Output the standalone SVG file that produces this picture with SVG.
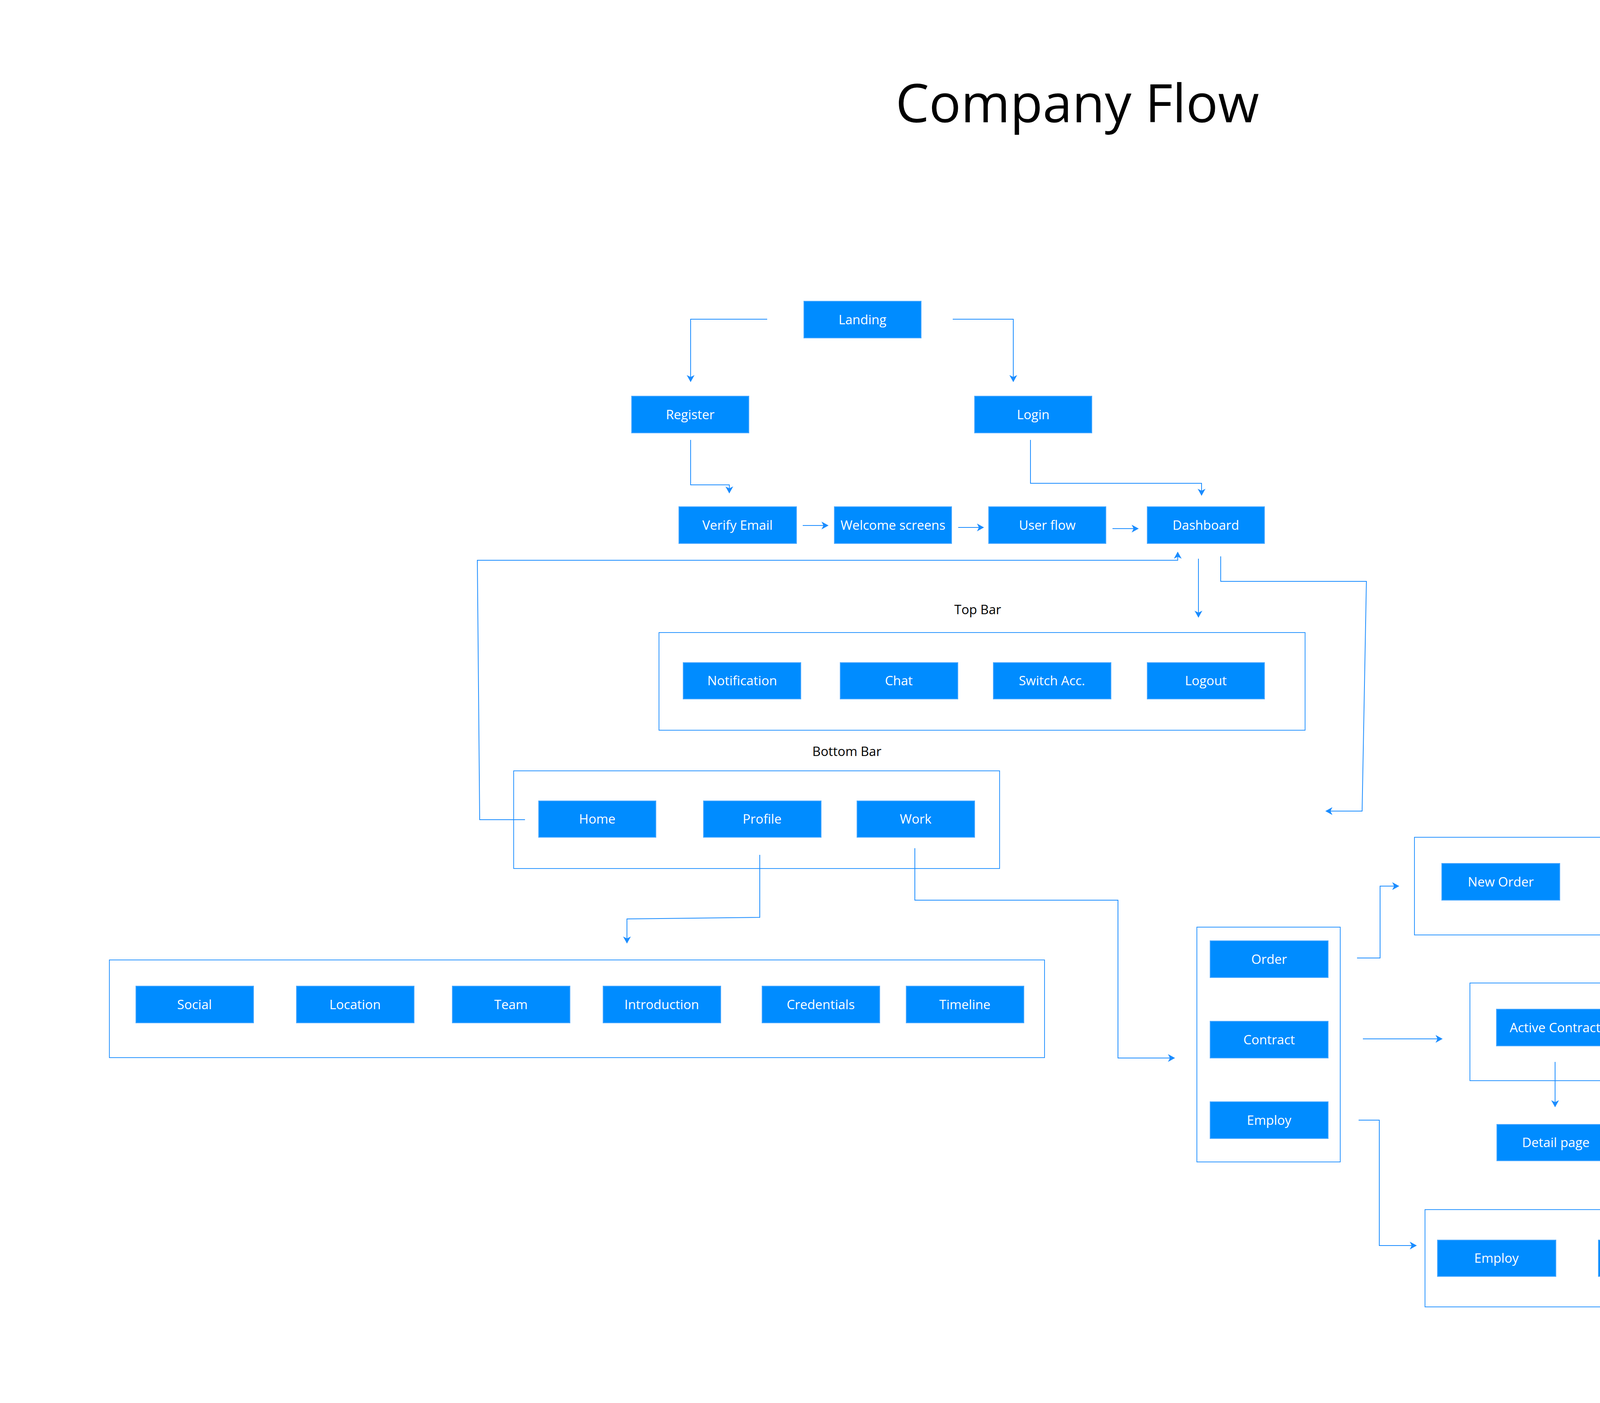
<svg xmlns="http://www.w3.org/2000/svg" width="5514" height="3591" viewBox="0 0 5514 3591">
<style>
.bg{fill:#ffffff}
.node rect{fill:#008cff;stroke:#4aa8ff;stroke-width:2}
.node text{fill:#ffffff;font-family:"Open Sans","Noto Sans",sans-serif;font-size:33px;text-anchor:middle}
.group rect{fill:none;stroke:#2a95ff;stroke-width:2}
.label{fill:#000000;font-family:"Open Sans","Noto Sans",sans-serif;font-size:33px;text-anchor:middle}
.title{fill:#000000;font-family:"Open Sans","Noto Sans",sans-serif;font-size:136px;text-anchor:middle}
#connectors path{fill:none;stroke:#1a8cff;stroke-width:2;marker-end:url(#arr)}
</style>
<defs>
<marker id="arr" viewBox="0 0 18 20" refX="17" refY="10" markerWidth="18" markerHeight="20" markerUnits="userSpaceOnUse" orient="auto">
<path d="M0,0 L18,10 L0,20 L5,10 Z" fill="#1a8cff"/>
</marker>
</defs>
<rect class="bg" x="0" y="0" width="5514" height="3591"/>
<text class="title" x="2758" y="313">Company Flow</text>

<g id="containers">
<g id="topbar-group" class="group"><rect x="1687" y="1619" width="1654" height="250"/></g>
<g id="bottombar-group" class="group"><rect x="1315" y="1973" width="1244" height="250"/></g>
<g id="profile-group" class="group"><rect x="280" y="2457" width="2394" height="250"/></g>
<g id="work-group" class="group"><rect x="3064" y="2373" width="367" height="601"/></g>
<g id="order-group" class="group"><rect x="3621" y="2143" width="1627" height="250"/></g>
<g id="contract-group" class="group"><rect x="3763" y="2516" width="848" height="250"/></g>
<g id="employ-group" class="group"><rect x="3648" y="3096" width="787" height="249"/></g>
</g>

<text id="topbar-label" class="label" x="2503" y="1572">Top Bar</text>
<text id="bottombar-label" class="label" x="2168" y="1935">Bottom Bar</text>

<g id="connectors">
<path d="M1964,817 H1768 V977"/>
<path d="M2439,817 H2594 V977"/>
<path d="M1768,1126 V1241 H1867 V1262"/>
<path d="M2638,1126 V1237 H3076 V1268"/>
<path d="M2055,1345 H2120"/>
<path d="M2453,1350 H2518"/>
<path d="M2848,1353 H2914"/>
<path d="M1344,2098 H1228 L1222,1434 H3015 V1413"/>
<path d="M3068,1430 V1580"/>
<path d="M3125,1424 V1488 H3498 L3487,2076 H3394"/>
<path d="M1945,2188 V2348 L1605,2352 V2414"/>
<path d="M2342,2171 V2304 H2862 V2708 H3007"/>
<path d="M3474,2452 H3533 V2268 H3581"/>
<path d="M3489,2659 H3692"/>
<path d="M3981,2718 V2833"/>
<path d="M3478,2867 H3531 V3188 H3626"/>
</g>

<g id="landing" class="node"><rect x="2058" y="771" width="300" height="94"/><text x="2208" y="830">Landing</text></g>
<g id="register" class="node"><rect x="1617" y="1014" width="300" height="94"/><text x="1767" y="1073">Register</text></g>
<g id="login" class="node"><rect x="2495" y="1014" width="300" height="94"/><text x="2645" y="1073">Login</text></g>
<g id="verify-email" class="node"><rect x="1738" y="1297" width="301" height="94"/><text x="1888" y="1356">Verify Email</text></g>
<g id="welcome-screens" class="node"><rect x="2136" y="1297" width="300" height="94"/><text x="2286" y="1356">Welcome screens</text></g>
<g id="user-flow" class="node"><rect x="2531" y="1297" width="300" height="94"/><text x="2681" y="1356">User flow</text></g>
<g id="dashboard" class="node"><rect x="2937" y="1297" width="300" height="94"/><text x="3087" y="1356">Dashboard</text></g>

<g id="notification" class="node"><rect x="1749" y="1696" width="301" height="93"/><text x="1900" y="1754">Notification</text></g>
<g id="chat" class="node"><rect x="2151" y="1696" width="301" height="93"/><text x="2301" y="1754">Chat</text></g>
<g id="switch-acc" class="node"><rect x="2543" y="1696" width="301" height="93"/><text x="2693" y="1754">Switch Acc.</text></g>
<g id="logout" class="node"><rect x="2937" y="1696" width="300" height="93"/><text x="3087" y="1754">Logout</text></g>

<g id="home" class="node"><rect x="1379" y="2050" width="300" height="93"/><text x="1529" y="2108">Home</text></g>
<g id="profile" class="node"><rect x="1801" y="2050" width="301" height="93"/><text x="1951" y="2108">Profile</text></g>
<g id="work" class="node"><rect x="2194" y="2050" width="301" height="93"/><text x="2344" y="2108">Work</text></g>

<g id="social" class="node"><rect x="348" y="2524" width="301" height="94"/><text x="498" y="2583">Social</text></g>
<g id="location" class="node"><rect x="759" y="2524" width="301" height="94"/><text x="909" y="2583">Location</text></g>
<g id="team" class="node"><rect x="1158" y="2524" width="301" height="94"/><text x="1308" y="2583">Team</text></g>
<g id="introduction" class="node"><rect x="1544" y="2524" width="301" height="94"/><text x="1694" y="2583">Introduction</text></g>
<g id="credentials" class="node"><rect x="1951" y="2524" width="301" height="94"/><text x="2101" y="2583">Credentials</text></g>
<g id="timeline" class="node"><rect x="2320" y="2524" width="301" height="94"/><text x="2470" y="2583">Timeline</text></g>

<g id="order" class="node"><rect x="3098" y="2408" width="302" height="94"/><text x="3249" y="2467">Order</text></g>
<g id="contract" class="node"><rect x="3098" y="2614" width="302" height="94"/><text x="3249" y="2673">Contract</text></g>
<g id="employ" class="node"><rect x="3098" y="2820" width="302" height="94"/><text x="3249" y="2879">Employ</text></g>

<g id="new-order" class="node"><rect x="3691" y="2210" width="302" height="94"/><text x="3842" y="2269">New Order</text></g>
<g id="active-order" class="node"><rect x="4102" y="2210" width="301" height="94"/><text x="4252" y="2269">Active Order</text></g>
<g id="ended-order" class="node"><rect x="4502" y="2210" width="302" height="94"/><text x="4653" y="2269">Ended Order</text></g>
<g id="analytics" class="node"><rect x="4887" y="2210" width="301" height="94"/><text x="5037" y="2269">Analytics</text></g>

<g id="active-contract" class="node"><rect x="3831" y="2583" width="301" height="94"/><text x="3981" y="2642">Active Contract</text></g>
<g id="ended-contract" class="node"><rect x="4241" y="2583" width="302" height="94"/><text x="4392" y="2642">Ended Contract</text></g>
<g id="detail-page" class="node"><rect x="3832" y="2878" width="302" height="93"/><text x="3983" y="2936">Detail page</text></g>

<g id="employ-sub" class="node"><rect x="3680" y="3174" width="303" height="93"/><text x="3831" y="3232">Employ</text></g>
<g id="candidate" class="node"><rect x="4092" y="3174" width="301" height="93"/><text x="4242" y="3232">Candidate</text></g>
</svg>
